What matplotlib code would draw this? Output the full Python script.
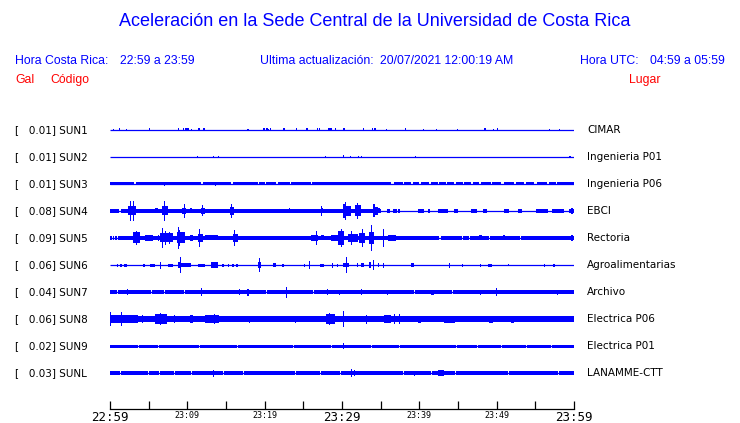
import matplotlib
matplotlib.use("Agg")
import matplotlib.pyplot as plt
from matplotlib.transforms import blended_transform_factory

BLUE = "#0000ff"
RED = "#ff0000"

# Station metadata
codes = ["SUN1", "SUN2", "SUN3", "SUN4", "SUN5", "SUN6", "SUN7", "SUN8", "SUN9", "SUNL"]
gal = [0.01, 0.01, 0.01, 0.08, 0.09, 0.06, 0.04, 0.06, 0.02, 0.03]
places = ["CIMAR", "Ingenieria P01", "Ingenieria P06", "EBCI", "Rectoria",
          "Agroalimentarias", "Archivo", "Electrica P06", "Electrica P01", "LANAMME-CTT"]

# Time axis: minutes after 22:59
tick_minutes = list(range(0, 61, 5))
tick_text = ["22:59", "", "23:09", "", "23:19", "", "23:29", "", "23:39", "", "23:49", "", "23:59"]
big_ticks = ["22:59", "23:29", "23:59"]

# Background noise band half-height (px) for each trace, 0 = plain line
band_h = [0, 0, 1.5, 1.7, 1.9, 0, 2.0, 2.7, 1.5, 2.3]

# Intervals (minutes) where the noise band drops to the plain line
gaps_sun3 = [(3.14, 3.34), (11.83, 12.0), (15.70, 15.9), (19.14, 19.3), (20.00, 20.2),
             (21.51, 21.7), (23.23, 23.4), (25.94, 26.1), (36.34, 36.7), (37.85, 38.0),
             (38.92, 39.2), (40.00, 40.25), (41.29, 41.5), (42.37, 42.55), (43.44, 43.6),
             (44.52, 44.7), (45.59, 45.8), (46.67, 46.95), (47.74, 47.95), (49.25, 49.45),
             (50.54, 50.9), (52.26, 52.45), (53.55, 53.75), (54.84, 55.2), (56.56, 56.75),
             (57.63, 57.8)]
gaps_sun4 = [(1.1, 1.4), (35.0, 39.8), (40.6, 41.1), (41.4, 42.4), (43.7, 44.5), (45.0, 46.7),
             (47.5, 48.2), (48.8, 51.0), (51.6, 52.7), (53.3, 55.1), (56.6, 57.2), (58.7, 59.4)]
gaps_sun5 = [(0.2, 0.35), (0.55, 0.7), (0.85, 1.0), (42.6, 42.8), (45.5, 45.7), (46.4, 46.6),
             (49.0, 49.2), (53.0, 53.2)]
gaps_sun7 = [(0.9, 1.05), (3.7, 3.8), (5.3, 5.4), (7.0, 7.1), (9.6, 9.7), (20.2, 20.3),
             (26.3, 26.4), (39.3, 39.4), (44.2, 44.3)]
gaps_sun9 = [(3.6, 3.7), (6.2, 6.3), (8.1, 8.2), (11.5, 11.6), (16.4, 16.5), (19.6, 19.7),
             (23.7, 23.8), (28.6, 28.7), (33.8, 33.9), (37.4, 37.5), (41.2, 41.3),
             (44.8, 44.9), (47.5, 47.6), (50.6, 50.7), (53.8, 53.9), (57.0, 57.1)]
gaps_sunl = [(1.3, 1.4), (4.9, 5.0), (6.4, 6.5), (8.3, 8.4), (10.5, 10.6), (14.6, 14.7),
             (17.2, 17.3), (21.3, 21.4), (23.9, 24.0), (27.2, 27.3), (29.8, 29.9),
             (33.7, 33.8), (37.9, 38.0), (41.5, 41.6), (44.6, 44.7), (48.3, 48.4),
             (51.5, 51.6), (55.3, 55.4), (57.9, 58.0)]
gaps = [[], [], gaps_sun3, gaps_sun4, gaps_sun5, [], gaps_sun7, [], gaps_sun9, gaps_sunl]

# Bursts and spikes: (minute, duration in minutes, half-height in px)
ev_sun1 = [(0.43, 0.15, 1.0), (1.20, 0.15, 1.5), (2.15, 0.15, 1.0), (5.08, 0.15, 1.5),
           (8.90, 0.15, 1.5), (9.46, 0.15, 1.5), (9.72, 0.15, 1.5), (10.02, 0.3, 1.5),
           (10.54, 0.15, 1.0), (11.48, 0.2, 1.5), (12.13, 0.3, 1.5), (17.85, 0.15, 1.0),
           (19.91, 0.15, 1.5), (20.30, 0.15, 1.5), (20.52, 0.15, 1.0), (20.77, 0.15, 1.5),
           (22.49, 0.15, 1.5), (24.17, 0.15, 1.5), (25.50, 0.3, 1.5), (26.80, 0.15, 1.5),
           (27.10, 0.15, 1.5), (28.30, 0.15, 1.5), (28.52, 0.3, 1.5), (29.20, 0.15, 1.5),
           (30.28, 0.3, 1.5), (32.82, 0.15, 1.5), (33.89, 0.15, 1.5), (34.15, 0.15, 1.5),
           (34.37, 0.15, 1.5), (35.70, 0.15, 1.0), (38.24, 0.15, 1.5), (40.56, 0.2, 1.0),
           (42.24, 0.15, 1.0), (44.95, 0.15, 1.0), (48.47, 0.3, 1.5), (49.59, 0.15, 1.0),
           (50.11, 0.15, 1.5), (56.86, 0.15, 1.0), (58.15, 0.15, 1.0)]
ev_sun2 = [(11.27, 0.15, 1.2), (13.33, 0.15, 1.2), (13.98, 0.15, 1.2), (27.83, 0.15, 1.2),
           (30.24, 0.15, 1.5), (31.14, 0.15, 1.2), (32.17, 0.15, 1.2), (32.56, 0.15, 1.2),
           (39.53, 0.15, 1.2), (59.48, 0.15, 1.2)]
ev_sun3 = [(7.10, 0.15, 2.2), (13.63, 0.15, 2.2)]
ev_sun4 = [(2.84, 0.95, 4.5), (2.71, 0.1, 10), (3.01, 0.1, 10), (6.02, 0.43, 2.5),
           (7.10, 0.86, 4.5), (7.01, 0.12, 10), (9.57, 0.48, 3), (9.59, 0.12, 7),
           (10.47, 0.3, 2.5), (12.0, 0.52, 3), (11.96, 0.12, 5.5), (12.9, 0.43, 2.3),
           (14.19, 0.2, 2.3), (15.78, 0.5, 4), (15.74, 0.12, 7), (18.92, 0.15, 2),
           (20.56, 0.12, 3.5), (22.15, 0.2, 2), (23.23, 0.2, 2.5), (24.30, 0.2, 2),
           (25.38, 0.2, 2), (26.24, 0.2, 2), (27.38, 0.3, 2.5), (27.31, 0.12, 5),
           (30.6, 1.0, 5), (30.25, 0.3, 7), (30.41, 0.12, 9), (32.08, 0.77, 5.5),
           (32.04, 0.12, 8), (34.15, 0.3, 6.5), (34.45, 0.4, 4), (34.75, 0.3, 2.5),
           (36.0, 0.4, 2.2), (36.8, 0.5, 2.2), (37.4, 0.3, 2), (59.78, 0.3, 3)]
ev_sun5 = [(3.44, 0.86, 5.5), (3.44, 0.15, 7), (5.05, 1.07, 3), (6.24, 0.15, 3),
           (7.3, 1.7, 4.5), (6.75, 0.12, 10), (7.2, 0.12, 7), (7.7, 0.12, 6),
           (9.15, 1.08, 5.5), (8.82, 0.12, 11), (9.0, 0.12, 8), (10.5, 0.43, 3),
           (11.72, 0.64, 4), (11.61, 0.12, 9), (13.1, 1.72, 2.5), (14.73, 0.64, 2.2),
           (16.2, 0.65, 4), (16.13, 0.12, 8), (17.63, 0.43, 2.2), (18.92, 0.2, 2.2),
           (21.07, 0.43, 2.2), (23.87, 0.3, 2.2), (26.45, 0.86, 3), (26.67, 0.12, 7),
           (27.52, 0.43, 2.5), (29.03, 0.86, 3), (29.89, 0.86, 7), (29.89, 0.12, 9),
           (31.4, 1.3, 4), (31.27, 0.12, 7), (32.6, 0.73, 5), (32.69, 0.12, 9),
           (33.87, 0.64, 6), (33.76, 0.12, 13), (35.40, 0.12, 9), (36.45, 1.08, 3),
           (38.06, 0.2, 2.3), (39.35, 0.2, 2.3), (44.09, 0.2, 2), (47.95, 0.43, 2.5),
           (50.97, 0.2, 2.5), (51.83, 0.2, 2.2), (54.28, 0.2, 2.2), (55.27, 0.2, 2.2),
           (56.99, 0.2, 2.2), (59.78, 0.3, 3)]
ev_sun6 = [(0.95, 0.15, 1.5), (1.38, 0.3, 1.5), (2.02, 0.3, 1.5), (4.39, 0.25, 1.5),
           (5.51, 0.6, 1.5), (6.58, 0.12, 3.5), (7.83, 0.6, 1.5), (9.7, 1.6, 2.2),
           (9.0, 0.3, 3), (9.16, 0.12, 8), (11.83, 0.8, 1.5), (13.51, 0.9, 3),
           (14.62, 0.15, 1.5), (15.35, 0.15, 1.5), (15.91, 0.15, 1.5), (16.43, 0.2, 1.5),
           (19.35, 0.4, 3), (19.35, 0.12, 7), (21.29, 0.3, 2), (22.37, 0.2, 1.5),
           (25.16, 0.15, 1.5), (25.81, 0.12, 4), (27.40, 0.6, 1.5), (28.82, 0.15, 2.5),
           (29.46, 0.15, 1.5), (30.54, 0.7, 2.2), (30.54, 0.12, 8), (32.04, 0.15, 2),
           (32.65, 0.35, 2), (33.63, 0.15, 3), (34.11, 0.12, 5), (34.71, 0.2, 2),
           (35.40, 0.15, 2.5), (39.14, 0.45, 2), (43.87, 0.15, 2.5), (45.59, 0.12, 1.5),
           (47.96, 0.15, 1.5), (49.12, 0.6, 1.5), (51.48, 0.12, 1), (56.21, 0.2, 1.5),
           (57.42, 0.2, 1.5)]
ev_sun7 = [(2.24, 0.12, 3), (11.83, 0.12, 4), (16.77, 0.15, 2.7), (17.85, 0.3, 3.5),
           (22.80, 0.12, 5.5), (28.17, 0.12, 2.7), (29.68, 0.12, 2.5), (32.47, 0.15, 3),
           (35.91, 0.15, 2.5), (41.72, 0.3, 2.5), (47.96, 0.15, 2.5), (50.02, 0.12, 4),
           (57.85, 0.15, 2.5)]
ev_sun8 = [(1.8, 3.6, 3.8), (0.09, 0.12, 7), (1.51, 0.12, 7), (4.2, 0.12, 4),
           (6.56, 1.5, 5), (6.58, 0.12, 6), (8.4, 0.12, 4), (10.54, 0.4, 4),
           (13.2, 1.9, 4), (13.55, 0.12, 5), (18.0, 0.12, 3.5), (24.0, 0.12, 3.5),
           (26.9, 0.12, 4.5), (28.5, 1.07, 5), (28.39, 0.12, 6), (30.24, 0.12, 8),
           (33.2, 0.12, 4.5), (35.9, 0.86, 4), (36.8, 0.12, 5), (37.42, 0.12, 5),
           (40.0, 0.4, 3.5), (43.9, 1.3, 3.5), (49.25, 0.5, 3.5), (52.04, 0.5, 3.5),
           (59.57, 0.3, 3)]
ev_sun9 = [(30.24, 0.12, 3)]
ev_sunl = [(13.42, 0.12, 3.5), (31.18, 0.12, 4), (31.61, 0.15, 3), (39.35, 0.15, 2.5),
           (42.8, 0.8, 2.7)]
events = [ev_sun1, ev_sun2, ev_sun3, ev_sun4, ev_sun5, ev_sun6, ev_sun7, ev_sun8, ev_sun9, ev_sunl]

W, H = 740, 423
fig = plt.figure(figsize=(W / 100, H / 100), dpi=100)
fig.patch.set_facecolor("white")

# plot area: x 110..574 px, y 116..409 px; y data in px, trace i at -27*i
ax = fig.add_axes([110 / W, 1 - 409 / H, 464 / W, 293 / H])
ax.set_xlim(0, 60)
ax.set_ylim(-279, 14)
for s in ("top", "left", "right"):
    ax.spines[s].set_visible(False)
ax.spines["bottom"].set_linewidth(0.9)
ax.set_yticks([])

spacing = 27
for i in range(len(codes)):
    yc = -spacing * i
    ax.hlines(yc, 0, 60, color=BLUE, lw=0.9)
    if band_h[i] > 0:
        edges = [0.0] + [t for g in gaps[i] for t in g] + [60.0]
        starts = edges[0::2]
        ends = edges[1::2]
        ax.bar(starts, [2 * band_h[i]] * len(starts),
               width=[e - s for s, e in zip(starts, ends)],
               bottom=yc - band_h[i], align="edge", color=BLUE, linewidth=0)
    ev = events[i]
    if ev:
        ax.bar([e[0] for e in ev], [2 * e[2] for e in ev],
               width=[max(e[1], 0.12) for e in ev],
               bottom=[yc - e[2] for e in ev], align="center", color=BLUE, linewidth=0)

ax.set_xticks(tick_minutes)
ax.set_xticklabels(tick_text, family="DejaVu Sans Mono")
for lab in ax.get_xticklabels():
    lab.set_fontsize(9 if lab.get_text() in big_ticks else 6)
ax.tick_params(axis="x", direction="in", length=6, width=0.9, pad=1.5, colors="black")

# left and right station labels
tr = blended_transform_factory(fig.transFigure, ax.transData)
for i in range(len(codes)):
    yc = -spacing * i
    ax.text(15 / W, yc, f"[   {gal[i]:.2f}] {codes[i]}", transform=tr, ha="left",
            va="center", fontsize=7.5, family="DejaVu Sans", color="black")
    ax.text(587 / W, yc, places[i], transform=tr, ha="left", va="center",
            fontsize=7.5, family="DejaVu Sans", color="black")

# header texts
hf = "Liberation Sans"
fig.text(375 / W, 1 - 22 / H, "Aceleración en la Sede Central de la Universidad de Costa Rica",
         ha="center", va="center", fontsize=13, family=hf, color=BLUE)
fig.text(15 / W, 1 - 61 / H, "Hora Costa Rica:", ha="left", va="center", fontsize=8.8, family=hf, color=BLUE)
fig.text(120 / W, 1 - 61 / H, "22:59 a 23:59", ha="left", va="center", fontsize=8.8, family=hf, color=BLUE)
fig.text(260 / W, 1 - 61 / H, "Ultima actualización:", ha="left", va="center", fontsize=8.8, family=hf, color=BLUE)
fig.text(380 / W, 1 - 61 / H, "20/07/2021 12:00:19 AM", ha="left", va="center", fontsize=8.8, family=hf, color=BLUE)
fig.text(580 / W, 1 - 61 / H, "Hora UTC:", ha="left", va="center", fontsize=8.8, family=hf, color=BLUE)
fig.text(650 / W, 1 - 61 / H, "04:59 a 05:59", ha="left", va="center", fontsize=8.8, family=hf, color=BLUE)
fig.text(15 / W, 1 - 80 / H, "Gal", ha="left", va="center", fontsize=8.8, family=hf, color=RED)
fig.text(50 / W, 1 - 80 / H, "Código", ha="left", va="center", fontsize=8.8, family=hf, color=RED)
fig.text(629 / W, 1 - 80 / H, "Lugar", ha="left", va="center", fontsize=8.8, family=hf, color=RED)

fig.savefig("out.png", dpi=100)
